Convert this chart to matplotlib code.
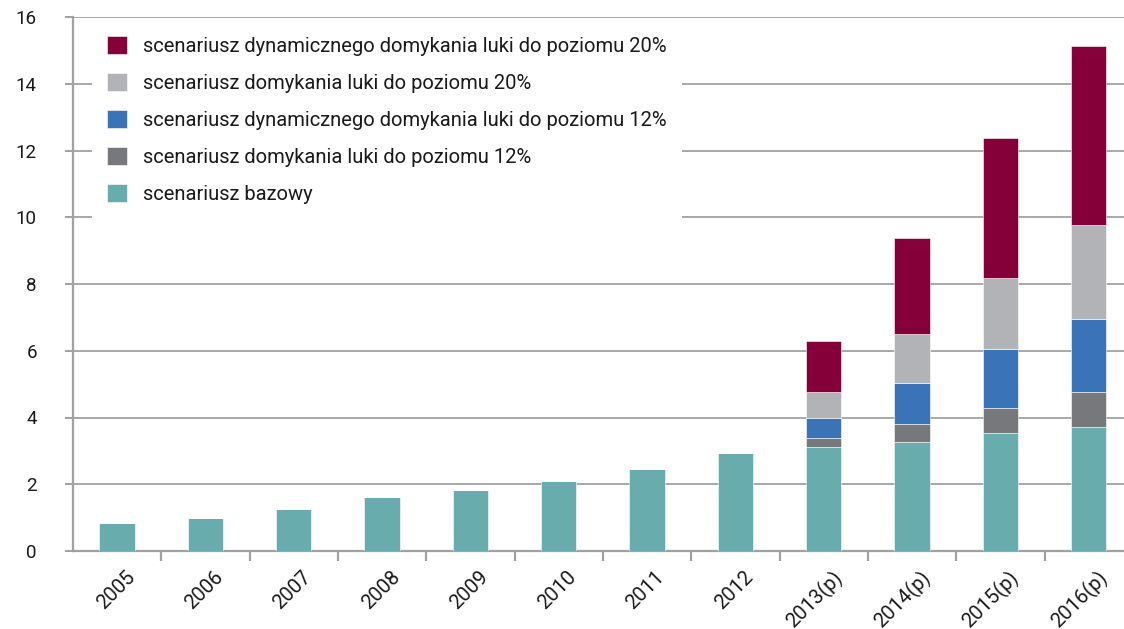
import matplotlib.pyplot as plt
import matplotlib.transforms as mtransforms
import numpy as np

years = ['2005', '2006', '2007', '2008', '2009', '2010', '2011', '2012',
         '2013(p)', '2014(p)', '2015(p)', '2016(p)']

base = [0.84, 0.98, 1.27, 1.61, 1.83, 2.10, 2.46, 2.94, 3.11, 3.26, 3.53, 3.73]
gap12 = [0, 0, 0, 0, 0, 0, 0, 0, 0.27, 0.54, 0.76, 1.02]
dyn12 = [0, 0, 0, 0, 0, 0, 0, 0, 0.62, 1.24, 1.77, 2.21]
gap20 = [0, 0, 0, 0, 0, 0, 0, 0, 0.76, 1.45, 2.13, 2.82]
dyn20 = [0, 0, 0, 0, 0, 0, 0, 0, 1.53, 2.88, 4.19, 5.36]

labels = ['scenariusz bazowy',
          'scenariusz domykania luki do poziomu 12%',
          'scenariusz dynamicznego domykania luki do poziomu 12%',
          'scenariusz domykania luki do poziomu 20%',
          'scenariusz dynamicznego domykania luki do poziomu 20%']
colors = ['#68acad', '#77787b', '#3b73b9', '#b1b3b6', '#850038']

plt.rcParams['font.family'] = ['Roboto', 'DejaVu Sans']

fig = plt.figure(figsize=(11.24, 6.29), dpi=100)
ax = fig.add_axes([73 / 1124, 1 - 551 / 629, 1 - 73 / 1124, (551 - 17) / 629])

x = np.arange(len(years))
series = [base, gap12, dyn12, gap20, dyn20]
bottom = np.zeros(len(years))
handles = []
for vals, col, lab in zip(series, colors, labels):
    vals = np.array(vals)
    b = ax.bar(x, vals, 0.40, bottom=bottom, color=col, edgecolor='white',
               linewidth=0.4, label=lab, zorder=3)
    handles.append(b)
    bottom = bottom + vals

ax.set_ylim(0, 16)
ax.set_xlim(-0.5, 11.4)
ax.set_yticks(range(0, 17, 2))
ax.yaxis.grid(True, color='#a7a8aa', linewidth=1.4, zorder=0)
ax.set_axisbelow(True)

for s in ['top', 'right']:
    ax.spines[s].set_visible(False)
for s in ['left', 'bottom']:
    ax.spines[s].set_color('#a0a1a3')
    ax.spines[s].set_linewidth(1.6)

ax.tick_params(axis='y', length=6, width=1.4, color='#a0a1a3', pad=20,
               labelsize=13.5, labelcolor='#1a1a1a')

ax.set_xticks(x)
ax.set_xticklabels(years, rotation=45, ha='right', rotation_mode='anchor',
                   fontsize=14.5, color='#1a1a1a')
ax.tick_params(axis='x', which='major', length=0, pad=12)
ax.set_xticks(np.arange(0.5, 11, 1), minor=True)
ax.tick_params(axis='x', which='minor', length=7, width=1.6, color='#a0a1a3')
offset = mtransforms.ScaledTranslation(8 / 100, 0, fig.dpi_scale_trans)
for lbl in ax.get_xticklabels():
    lbl.set_transform(lbl.get_transform() + offset)

leg = ax.legend(handles[::-1], labels[::-1], loc='upper left',
                bbox_to_anchor=(92 / 1124, 1 - 21 / 629),
                bbox_transform=fig.transFigure, fontsize=14.5,
                frameon=True, fancybox=False, edgecolor='none',
                facecolor='white', framealpha=1, borderpad=0.75,
                handlelength=1.0, handleheight=1.0, handletextpad=0.8,
                labelspacing=0.85, borderaxespad=0)
for t in leg.get_texts():
    t.set_color('#1a1a1a')
leg.set_zorder(5)

plt.savefig('out.png', dpi=100)
